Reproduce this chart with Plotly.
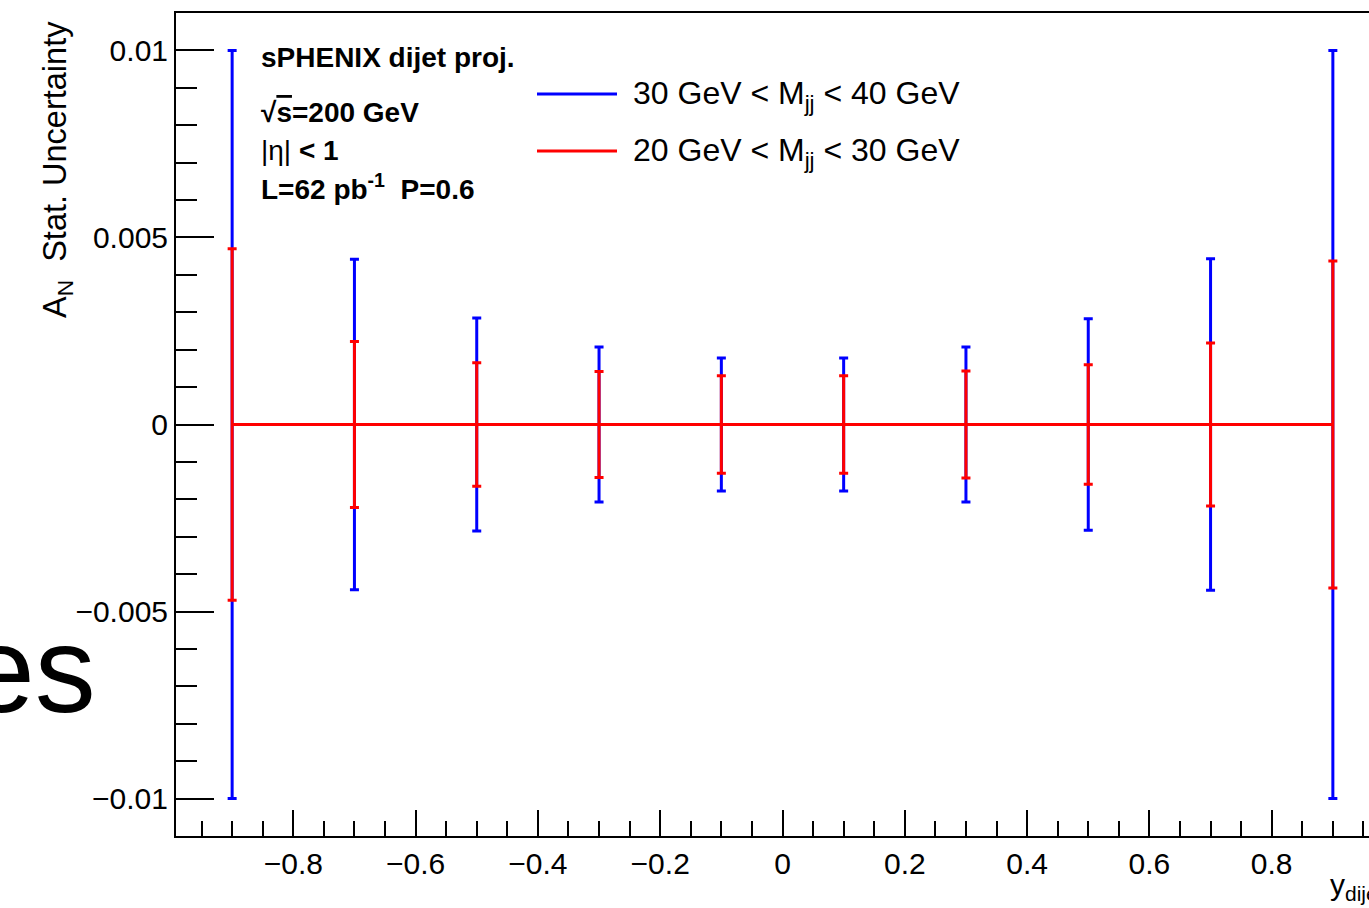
import plotly.graph_objects as go

# ---- data ----
y_dijet = [-0.9, -0.7, -0.5, -0.3, -0.1, 0.1, 0.3, 0.5, 0.7, 0.9]
an_high = [0, 0, 0, 0, 0, 0, 0, 0, 0, 0]          # 30 GeV < Mjj < 40 GeV
err_high = [0.0100, 0.00442, 0.00285, 0.00207, 0.00178, 0.00178, 0.00207, 0.00283, 0.00443, 0.0100]
an_low = [0, 0, 0, 0, 0, 0, 0, 0, 0, 0]           # 20 GeV < Mjj < 30 GeV
err_low = [0.0047, 0.00222, 0.00165, 0.00142, 0.0013, 0.0013, 0.00143, 0.0016, 0.00218, 0.00437]
series_names = ["30 GeV < M<sub>jj</sub> < 40 GeV", "20 GeV < M<sub>jj</sub> < 30 GeV"]
series_colors = ["#0000ff", "#ff0000"]

W, H = 1369, 908
L, R, T, B = 176, 0, 13, 72
PW, PH = W - L - R, H - T - B
FONT = "Liberation Sans, Arial, Helvetica, sans-serif"


def px(x):
    return (x - L) / PW


def py(y):
    return (H - B - y) / PH


fig = go.Figure()
for xs, ys, es, name, col in [
    (y_dijet, an_high, err_high, series_names[0], series_colors[0]),
    (y_dijet, an_low, err_low, series_names[1], series_colors[1]),
]:
    fig.add_trace(go.Scatter(
        x=xs, y=ys, mode="lines", name=name,
        line=dict(color=col, width=3),
        error_y=dict(type="data", array=es, visible=True, color=col, thickness=3, width=4.5),
        showlegend=False,
    ))

annotations = []
# manual legend
shapes = []
for i, (name, col) in enumerate(zip(series_names, series_colors)):
    yc = [94, 151][i]
    shapes.append(dict(type="line", xref="paper", yref="paper",
                       x0=px(537), x1=px(617), y0=py(yc), y1=py(yc),
                       line=dict(color=col, width=3)))
    annotations.append(dict(text=name, xref="paper", yref="paper", x=px(631), y=py(yc + 1),
                            xanchor="left", yanchor="middle", showarrow=False,
                            font=dict(family=FONT, size=32, color="black")))

# text box
info = [
    ("<b>sPHENIX dijet proj.</b>", 57),
    ("<b>√<span style='text-decoration:overline'>s</span>=200 GeV</b>", 112),
    ("|η| <b>&lt; 1</b>", 150),
    ("<b>L=62 pb<sup>-1</sup>\u00a0\u00a0P=0.6</b>", 187),
]
for txt, yc in info:
    annotations.append(dict(text=txt, xref="paper", yref="paper", x=px(259), y=py(yc),
                            xanchor="left", yanchor="middle", showarrow=False,
                            font=dict(family=FONT, size=28, color="black")))

# axis titles
annotations.append(dict(text="A<sub>N</sub>\u00a0\u00a0Stat. Uncertainty", xref="paper", yref="paper",
                        x=px(57), y=py(170), xanchor="center", yanchor="middle",
                        textangle=-90, showarrow=False,
                        font=dict(family=FONT, size=32.5, color="black")))
annotations.append(dict(text="y<sub>dijet</sub>", xref="paper", yref="paper",
                        x=px(1328), y=py(886), xanchor="left", yanchor="middle",
                        showarrow=False, font=dict(family=FONT, size=30, color="black")))
# slide title fragment
annotations.append(dict(text="es", xref="paper", yref="paper",
                        x=px(98), y=py(670), xanchor="right", yanchor="middle",
                        showarrow=False, font=dict(family=FONT, size=122, color="black")))

fig.update_layout(
    width=W, height=H,
    margin=dict(l=L, r=R, t=T, b=B, pad=0),
    paper_bgcolor="white", plot_bgcolor="white",
    font=dict(family=FONT, size=30, color="black"),
    annotations=annotations, shapes=shapes,
    showlegend=False,
)
fig.update_xaxes(
    range=[-0.9918, 0.9591], showgrid=False, zeroline=False,
    showline=True, linecolor="black", linewidth=2, mirror=True,
    ticks="inside", ticklen=26, tickwidth=2, tickcolor="black",
    tick0=0, dtick=0.2, tickformat="~g",
    tickfont=dict(family=FONT, size=30, color="black"),
    minor=dict(ticks="inside", ticklen=15, tickwidth=2, tickcolor="black", dtick=0.05, tick0=0, showgrid=False),
)
fig.update_yaxes(
    range=[-0.011, 0.011], showgrid=False, zeroline=False,
    showline=True, linecolor="black", linewidth=2, mirror=False,
    ticks="inside", ticklen=38, tickwidth=2, tickcolor="black",
    tickvals=[-0.01, -0.005, 0, 0.005, 0.01],
    ticktext=["\u22120.01", "\u22120.005", "0", "0.005", "0.01"],
    tickfont=dict(family=FONT, size=30, color="black"),
    minor=dict(ticks="inside", ticklen=21, tickwidth=2, tickcolor="black", dtick=0.001, tick0=0, showgrid=False),
)

fig.write_html("out.html", config={"displayModeBar": False},
               post_script="document.body.style.margin='0';document.body.style.overflow='hidden';")
